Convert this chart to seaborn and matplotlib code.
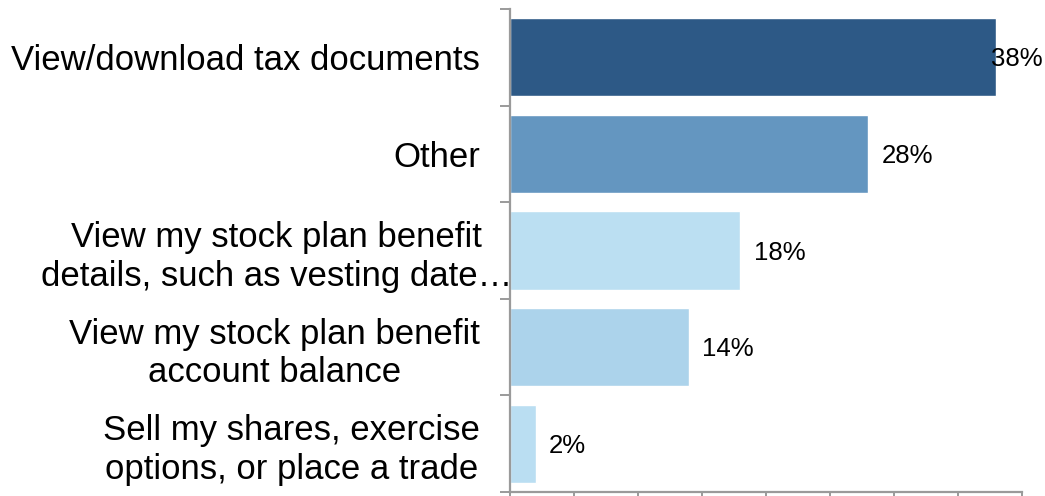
import matplotlib
matplotlib.use("Agg")
import matplotlib.pyplot as plt
import matplotlib.transforms as mtransforms
import seaborn as sns
import pandas as pd

# Survey answers, top to bottom, with the share of respondents
categories = [
    "View/download tax documents",
    "Other",
    "View my stock plan benefit\ndetails, such as vesting date…",
    "View my stock plan benefit\naccount balance",
    "Sell my shares, exercise\noptions, or place a trade",
]
values = [38, 28, 18, 14, 2]
value_labels = ["38%", "28%", "18%", "14%", "2%"]
bar_colors = ["#2D5986", "#6496C0", "#BBDFF2", "#ACD3EB", "#BADEF2"]

sns.set_theme(style="white")
plt.rcParams["font.family"] = ["Liberation Sans", "DejaVu Sans"]

DPI = 100
fig = plt.figure(figsize=(1045 / DPI, 496 / DPI), dpi=DPI)
ax = fig.add_axes([510 / 1045, 4 / 496, 512 / 1045, 483 / 496])

df = pd.DataFrame({"category": categories, "value": values})
sns.barplot(data=df, x="value", y="category", hue="category",
            palette=bar_colors, orient="h", width=0.81, legend=False,
            saturation=1, ax=ax)

ax.set_xlim(0, 40)
ax.set_ylim(len(categories) - 0.5, -0.5)
ax.set_xlabel("")
ax.set_ylabel("")

spine_color = "#9A9A9A"
for side in ["top", "right"]:
    ax.spines[side].set_visible(False)
for side in ["left", "bottom"]:
    ax.spines[side].set_color(spine_color)
    ax.spines[side].set_linewidth(1.6)

# x axis: tick marks every 5%, no labels
ax.set_xticks(range(0, 41, 5))
ax.set_xticklabels([])
ax.tick_params(axis="x", which="major", direction="out", length=3,
               width=1.4, color=spine_color, bottom=True)

# y axis: tick marks between categories, labels centred on bars
n = len(categories)
ax.set_yticks([i - 0.5 for i in range(n + 1)])
ax.set_yticklabels([])
ax.set_yticks(list(range(n)), minor=True)
ax.set_yticklabels(categories, minor=True)
ax.tick_params(axis="y", which="major", direction="out", length=7.5,
               width=1.4, color=spine_color, left=True)
ax.tick_params(axis="y", which="minor", length=0, pad=21.5,
               labelsize=25, labelcolor="black", left=True)

for i, lbl in enumerate(ax.get_yticklabels(minor=True)):
    lbl.set_multialignment("center")
    lbl.set_linespacing(1.22)
    if "vesting" in categories[i]:
        lbl.set_transform(lbl.get_transform() +
                          mtransforms.ScaledTranslation(32 / DPI, 0, fig.dpi_scale_trans))

# value labels to the right of each bar
texts = []
for i, (v, s) in enumerate(zip(values, value_labels)):
    t = ax.annotate(s, xy=(v, i), xytext=(9.5, -1.5), textcoords="offset points",
                    ha="left", va="center", fontsize=18.5, color="black",
                    annotation_clip=False)
    texts.append(t)

fig.canvas.draw()
renderer = fig.canvas.get_renderer()
fig_w = fig.bbox.width
for t in texts:
    bb = t.get_window_extent(renderer)
    if bb.x1 > fig_w - 2:
        shift = (bb.x1 - (fig_w - 2)) * 72 / DPI
        x0, y0 = t.xyann
        t.xyann = (x0 - shift, y0)

fig.savefig("out.png", dpi=DPI)
